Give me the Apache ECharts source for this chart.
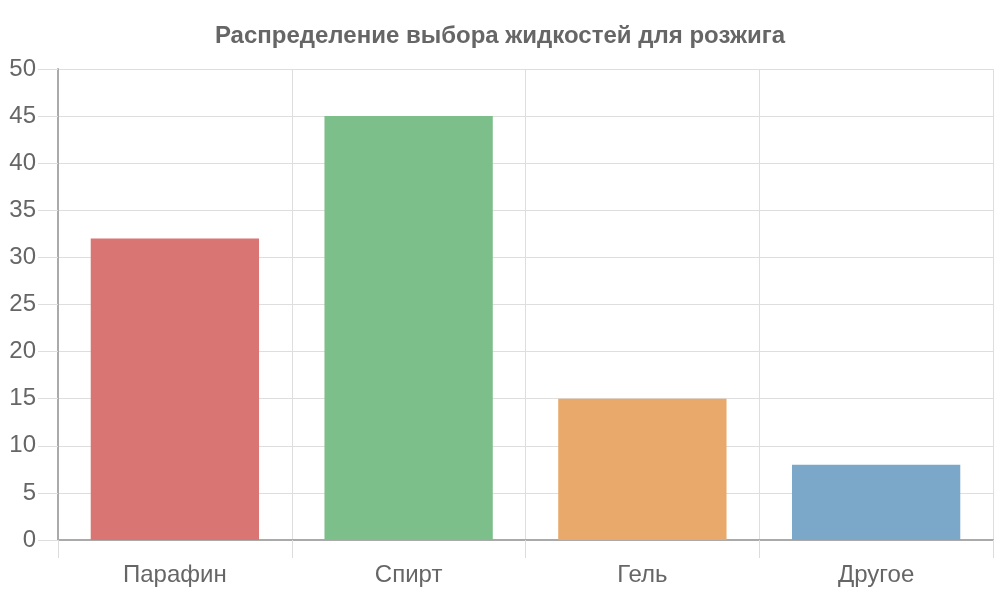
<!DOCTYPE html>
<html><head><meta charset="utf-8">
<script src="https://cdn.jsdelivr.net/npm/echarts@6/dist/echarts.min.js"></script>
<style>html,body{margin:0;padding:0;background:#fff}#c{width:1000px;height:600px}</style>
</head><body><div id="c"></div>
<script>
const categories = ['Парафин', 'Спирт', 'Гель', 'Другое'];
const values = [32, 45, 15, 8];
const colors = ['#d97572', '#7dbf8a', '#e8a96b', '#7ba7c9'];
const titleText = 'Распределение выбора жидкостей для розжига';

const chart = echarts.init(document.getElementById('c'));
chart.setOption({
  animation: false,
  title: {
    text: titleText, left: 'center', top: 19,
    textStyle: { fontFamily: 'Liberation Sans, Arial, sans-serif', fontSize: 24, fontWeight: 'bold', color: '#666' }
  },
  grid: { left: 58, right: 7, top: 69, bottom: 60 },
  xAxis: {
    type: 'category', data: categories, boundaryGap: true,
    axisLine: { show: true, lineStyle: { color: '#aaa', width: 2 } },
    axisTick: { show: true, length: 18, lineStyle: { color: '#dcdcdc', width: 1 } },
    splitLine: { show: true, lineStyle: { color: '#dedede', width: 1 } },
    axisLabel: { fontFamily: 'Liberation Sans, Arial, sans-serif', fontSize: 24, color: '#666', margin: 23 }
  },
  yAxis: {
    type: 'value', min: 0, max: 50, interval: 5,
    axisLine: { show: true, lineStyle: { color: '#aaa', width: 2 } },
    axisTick: { show: true, length: 20, lineStyle: { color: '#dedede', width: 1 } },
    splitLine: { show: true, lineStyle: { color: '#dedede', width: 1 } },
    axisLabel: { fontFamily: 'Liberation Sans, Arial, sans-serif', fontSize: 24, color: '#666', margin: 22 }
  },
  series: [{
    type: 'bar', barWidth: '72%',
    data: values.map((v, i) => ({ value: v, itemStyle: { color: colors[i] } }))
  }]
});
</script></body></html>
